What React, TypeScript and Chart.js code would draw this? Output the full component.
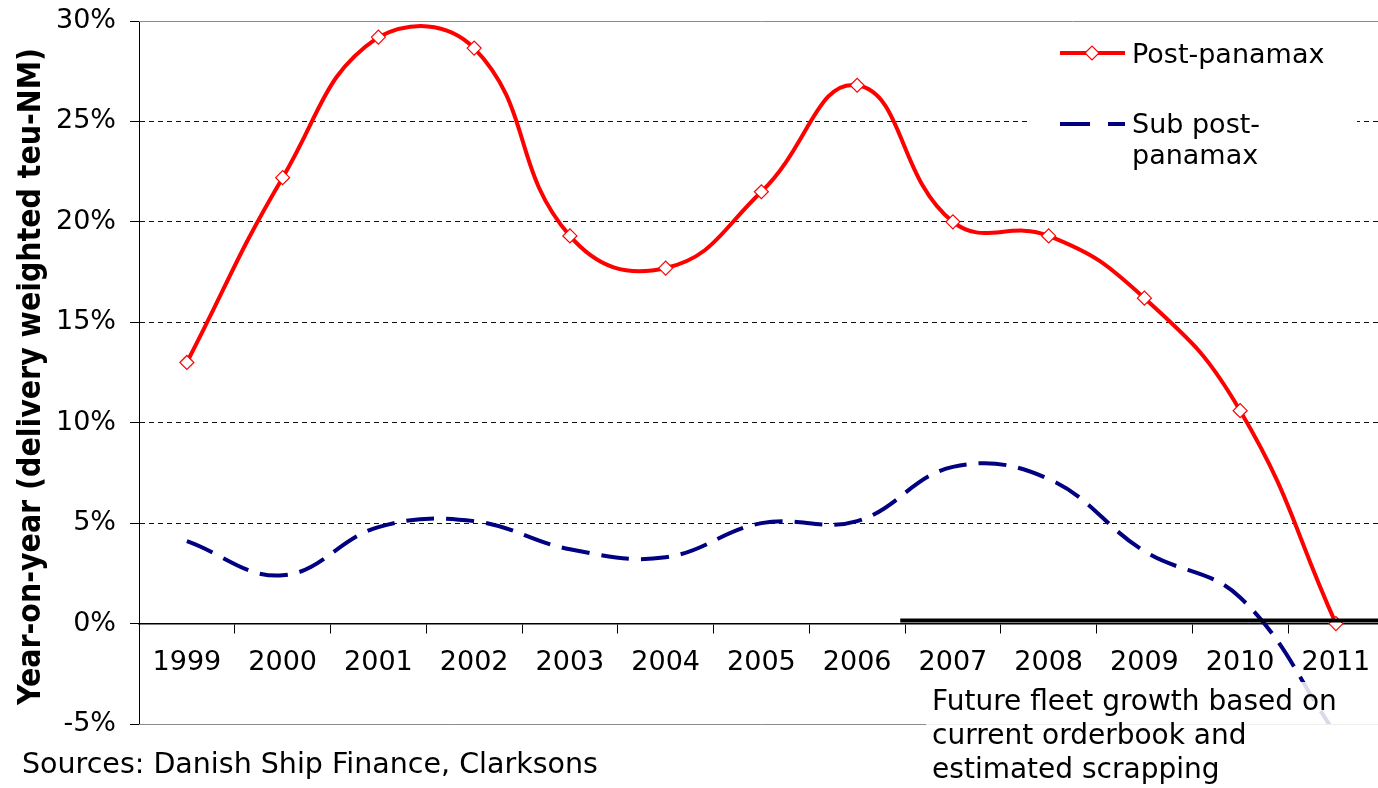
import React, { useEffect, useRef } from "react";
import { Chart, registerables } from "chart.js";

Chart.register(...registerables);

const years = ["1999", "2000", "2001", "2002", "2003", "2004", "2005", "2006", "2007", "2008", "2009", "2010", "2011"];
const postPanamax = [13.0, 22.2, 29.2, 28.65, 19.3, 17.7, 21.5, 26.8, 20.0, 19.3, 16.2, 10.6, 0];
const subPostPanamax = [4.1, 2.4, 4.8, 5.1, 3.7, 3.3, 5.0, 5.1, 7.8, 7.2, 3.6, 1.3, -5.5];
const yMin = -5;
const yMax = 30;
const yStep = 5;
const yTitle = "Year-on-year (delivery weighted teu-NM)";
const seriesNames = ["Post-panamax", "Sub post-panamax"];
const sourceText = "Sources: Danish Ship Finance, Clarksons";
const noteLines = ["Future fleet growth based on", "current orderbook and", "estimated scrapping"];
const forecastStart = 7.45; // category index (between 2006 and 2007)
const noteStart = 7.72;

const FONT = "'DejaVu Sans', Verdana, sans-serif";
const FS = 27;
const RED = "#ff0000";
const NAVY = "#000080";
const W = 1392;
const H = 788;

const decor = {
  id: "decor",
  beforeDatasetsDraw(chart: any) {
    const { ctx, chartArea: a, scales } = chart;
    const y = scales.y;
    ctx.save();
    ctx.strokeStyle = "#8a8a8a";
    ctx.lineWidth = 1;
    ctx.beginPath();
    const yt = Math.round(y.getPixelForValue(yMax)) + 0.5;
    const yb = Math.round(y.getPixelForValue(yMin)) + 0.5;
    ctx.moveTo(a.left, yt);
    ctx.lineTo(a.right, yt);
    ctx.moveTo(a.left, yb);
    ctx.lineTo(a.right, yb);
    ctx.moveTo(a.right - 0.5, yt);
    ctx.lineTo(a.right - 0.5, yb);
    ctx.stroke();
    ctx.restore();
  },
  afterDraw(chart: any) {
    const { ctx, chartArea: a, scales } = chart;
    const x = scales.x;
    const y = scales.y;
    ctx.save();

    // y axis title (drawn manually to match the stretched glyphs)
    ctx.save();
    ctx.font = `bold 27px ${FONT}`;
    const tw = ctx.measureText(yTitle).width;
    ctx.translate(40, (a.top + a.bottom) / 2 + 4);
    ctx.rotate(-Math.PI / 2);
    ctx.scale(657 / tw, 1.2);
    ctx.fillStyle = "#000";
    ctx.textAlign = "center";
    ctx.textBaseline = "alphabetic";
    ctx.fillText(yTitle, 0, 0);
    ctx.restore();

    // thick black forecast line
    const y0 = y.getPixelForValue(0);
    ctx.strokeStyle = "#000";
    ctx.lineWidth = 4;
    ctx.beginPath();
    ctx.moveTo(x.getPixelForValue(forecastStart), y0 - 3);
    ctx.lineTo(a.right, y0 - 3);
    ctx.stroke();

    // note box
    const nx = x.getPixelForValue(noteStart);
    ctx.fillStyle = "rgba(255,255,255,0.85)";
    ctx.fillRect(nx, 682, a.right - nx, H - 682);
    ctx.fillStyle = "#000";
    ctx.font = `28px ${FONT}`;
    ctx.textAlign = "left";
    ctx.textBaseline = "alphabetic";
    noteLines.forEach((t, i) => ctx.fillText(t, nx + 6, 710 + i * 34));

    // sources
    ctx.font = `28.5px ${FONT}`;
    ctx.fillText(sourceText, 22, 773);

    // legend
    ctx.font = `${FS}px ${FONT}`;
    ctx.fillStyle = "#fff";
    ctx.fillRect(1028, 28, 329, 150);
    ctx.lineWidth = 4;
    ctx.strokeStyle = RED;
    ctx.beginPath();
    ctx.moveTo(1060, 53);
    ctx.lineTo(1125, 53);
    ctx.stroke();
    const cx = 1092, cy = 53, r = 7;
    ctx.beginPath();
    ctx.moveTo(cx - r, cy);
    ctx.lineTo(cx, cy - r);
    ctx.lineTo(cx + r, cy);
    ctx.lineTo(cx, cy + r);
    ctx.closePath();
    ctx.fillStyle = "#fff";
    ctx.fill();
    ctx.lineWidth = 1.2;
    ctx.stroke();

    ctx.strokeStyle = NAVY;
    ctx.lineWidth = 4;
    ctx.beginPath();
    ctx.moveTo(1060, 124);
    ctx.lineTo(1090, 124);
    ctx.moveTo(1108, 124);
    ctx.lineTo(1125, 124);
    ctx.stroke();

    ctx.fillStyle = "#000";
    ctx.fillText(seriesNames[0], 1132, 63);
    ctx.fillText("Sub post-", 1132, 133);
    ctx.fillText("panamax", 1132, 164);
    ctx.restore();
  },
};

export default function App() {
  const ref = useRef<HTMLCanvasElement | null>(null);
  useEffect(() => {
    document.body.style.margin = "0";
    document.body.style.overflow = "hidden";
    const canvas = ref.current!;
    const chart = new Chart(canvas, {
      type: "line",
      data: {
        labels: years,
        datasets: [
          {
            label: seriesNames[0],
            data: postPanamax,
            borderColor: RED,
            borderWidth: 4,
            tension: 0.45,
            pointStyle: "rectRot",
            pointRadius: 7,
            pointBackgroundColor: "#fff",
            pointBorderColor: RED,
            pointBorderWidth: 1.2,
            order: 1,
          },
          {
            label: seriesNames[1],
            data: subPostPanamax,
            borderColor: NAVY,
            borderWidth: 4,
            borderDash: [28, 12],
            tension: 0.4,
            pointRadius: 0,
            order: 2,
          },
        ],
      },
      options: {
        responsive: false,
        animation: false,
        events: [],
        layout: { padding: { top: 21, bottom: 64, left: 0, right: 0 } },
        plugins: { legend: { display: false }, tooltip: { enabled: false }, title: { display: false } },
        scales: {
          x: {
            type: "category",
            position: { y: 0 } as any,
            offset: true,
            afterFit: (s: any) => {
              s.paddingLeft = 0;
              s.paddingRight = 0;
              s.paddingTop = 0;
              s.paddingBottom = 0;
            },
            grid: { display: true, offset: true, drawOnChartArea: false, drawTicks: true, tickLength: 9, color: "#000", tickColor: "#000" },
            border: { display: true, color: "#000", width: 1.5 },
            ticks: { color: "#000", font: { family: FONT, size: FS }, padding: 14, maxRotation: 0, autoSkip: false },
          },
          y: {
            type: "linear",
            min: yMin,
            max: yMax,
            afterFit: (s: any) => {
              s.width = 139;
              s.paddingTop = 0;
              s.paddingBottom = 0;
              s.paddingLeft = 0;
              s.paddingRight = 0;
            },
            ticks: {
              stepSize: yStep,
              color: "#000",
              font: { family: FONT, size: FS },
              padding: 14,
              callback: (v: any) => `${v}%`,
            },
            grid: {
              color: (c: any) => {
                const v = c.tick ? c.tick.value : null;
                return v !== null && v > 0 && v < yMax ? "#111" : "rgba(0,0,0,0)";
              },
              tickColor: "#000",
              tickLength: 9,
              lineWidth: 1,
            },
            border: { display: true, color: "#000", width: 1, dash: [5, 4] },
            title: { display: false },
          },
        },
      },
      plugins: [decor],
    });
    return () => chart.destroy();
  }, []);
  return (
    <div style={{ position: "fixed", left: 0, top: 0, width: W, height: H, background: "#fff" }}>
      <canvas ref={ref} width={W} height={H} style={{ display: "block" }} />
    </div>
  );
}
